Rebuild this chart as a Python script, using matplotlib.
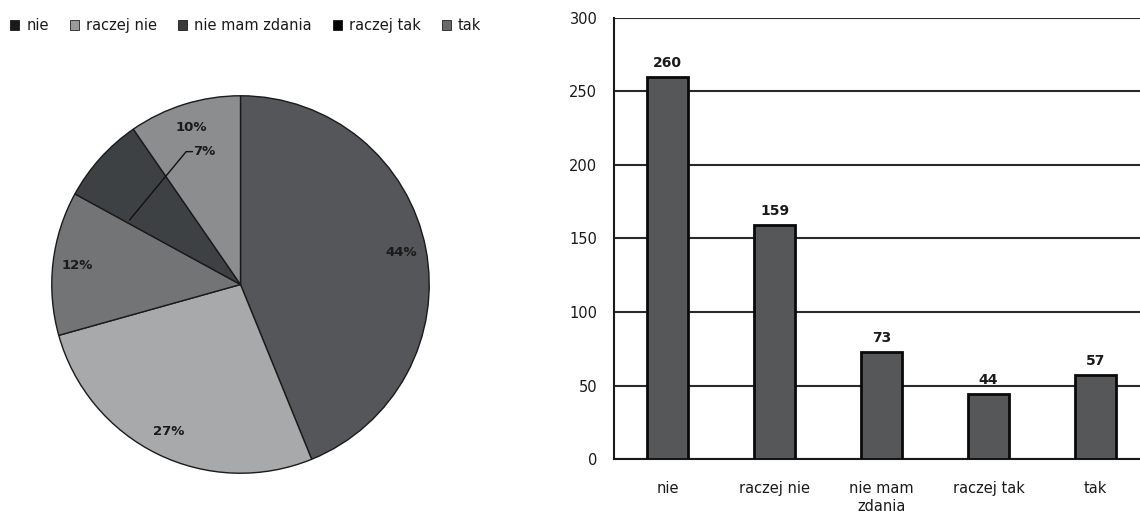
import numpy as np
import matplotlib
matplotlib.use("Agg")
import matplotlib.pyplot as plt
from matplotlib.patches import Patch

plt.rcParams['font.family'] = ['DejaVu Sans']

categories = ["nie", "raczej nie", "nie mam zdania", "raczej tak", "tak"]
tick_labels = ["nie", "raczej nie", "nie mam\nzdania", "raczej tak", "tak"]
counts = [260, 159, 73, 44, 57]

pie_colors = ["#545659", "#a7a9aa", "#727476", "#3e4144", "#8b8d8f"]
legend_colors = ["#1a1a1a", "#9a9a9a", "#3a3a3a", "#050505", "#6a6a6a"]
bar_color = "#555759"
text_color = "#1a1a1a"

W, H = 1140, 513
fig = plt.figure(figsize=(W / 100, H / 100), dpi=100)

# ---- Pie ----
cx, cy, r = 240.5, 284.5, 192.5
axp = fig.add_axes([(cx - r) / W, 1 - (cy + r) / H, 2 * r / W, 2 * r / H])
wedges, texts, autotexts = axp.pie(
    counts, colors=pie_colors, startangle=90, counterclock=False,
    autopct=lambda p: f"{p:.0f}%", pctdistance=0.87,
    wedgeprops=dict(edgecolor="#1a1a1a", linewidth=1.0),
    textprops=dict(fontsize=9.5, color=text_color, fontweight="bold"))
axp.set_xlim(-1.02, 1.02)
axp.set_ylim(-1.02, 1.02)
axp.set_aspect("equal")
axp.axis("off")

# small slice: label moved outside the wedge with a leader line
small = 3
w = wedges[small]
ang = np.deg2rad(max(w.theta1, w.theta2) - 1.5)
anchor = (0.68 * np.cos(ang), 0.68 * np.sin(ang))
elbow = (-0.288, 0.704)
autotexts[small].set_position((-0.25, 0.704))
autotexts[small].set_ha("left")
autotexts[small].set_va("center")
axp.plot([anchor[0], elbow[0], -0.255], [anchor[1], elbow[1], 0.704],
         color="#111111", lw=1.0)

# ---- Legend ----
handles = [Patch(facecolor=c, edgecolor="#000000", linewidth=0.5) for c in legend_colors]
fig.legend(handles, categories, loc="upper left", bbox_to_anchor=(0.0, 1.0 - 8 / H),
           ncol=5, frameon=False, fontsize=10.5, handlelength=0.6, handleheight=0.6,
           handletextpad=0.5, columnspacing=1.45, borderaxespad=0.3,
           labelcolor=text_color)

# ---- Bar chart ----
x0, unit = 614, 107
axb = fig.add_axes([x0 / W, 1 - 459 / H, 5 * unit / W, (459 - 18) / H])
x = np.arange(len(categories))
bars = axb.bar(x, counts, width=0.38, color=bar_color, edgecolor="#0a0a0a",
               linewidth=2, zorder=3)
axb.set_xlim(-0.5, 4.5)
axb.set_ylim(0, 300)
axb.set_yticks(range(0, 301, 50))
axb.set_xticks(x)
axb.set_xticklabels(tick_labels, fontsize=10.5, color=text_color)
axb.tick_params(axis="y", length=0, pad=12, labelsize=10.5, labelcolor=text_color)
axb.tick_params(axis="x", length=0, pad=16)
axb.yaxis.grid(True, color="#2a2a2a", linewidth=1.5, zorder=0)
axb.set_axisbelow(True)
for s in ["top", "right"]:
    axb.spines[s].set_visible(False)
for s in ["left", "bottom"]:
    axb.spines[s].set_linewidth(1.5)
    axb.spines[s].set_color("#1a1a1a")
for b, v in zip(bars, counts):
    axb.annotate(str(v), (b.get_x() + b.get_width() / 2, v), xytext=(0, 5),
                 textcoords="offset points", ha="center", va="bottom",
                 fontsize=10, fontweight="bold", color=text_color)

fig.savefig("out.png", dpi=100)
